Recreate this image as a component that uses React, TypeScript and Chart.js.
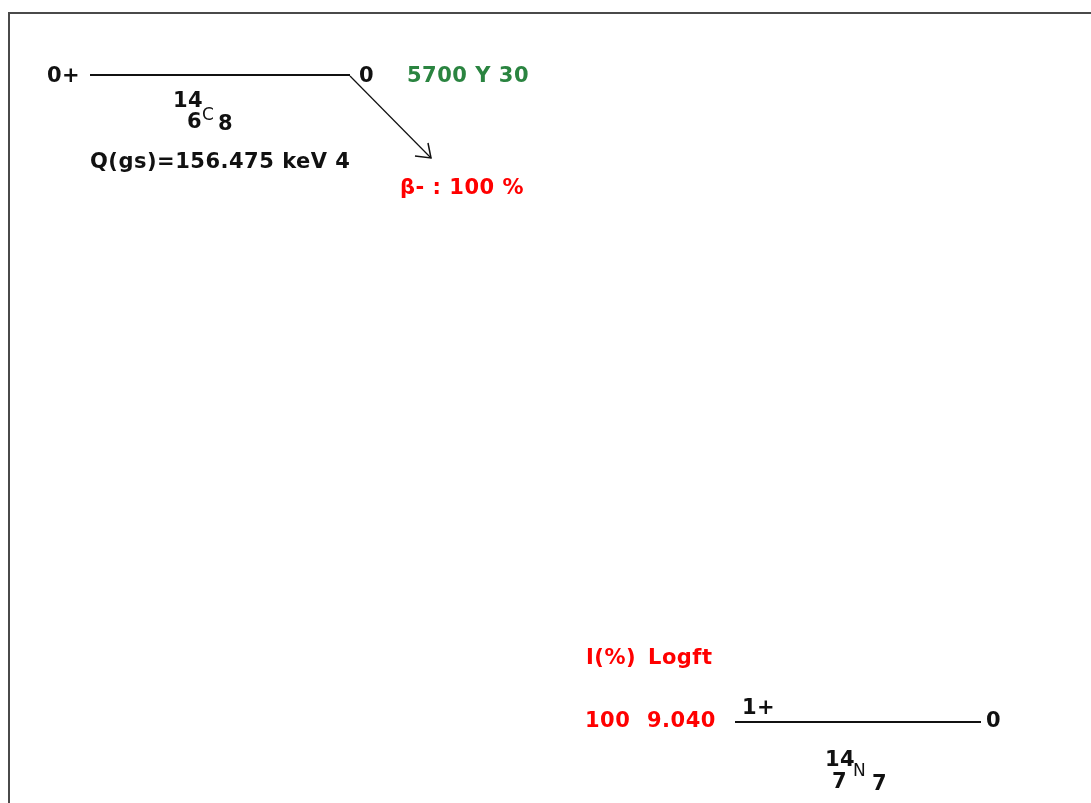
import React, { useEffect, useRef } from "react";
import { Chart, registerables } from "chart.js";

Chart.register(...registerables);

// ---- data ----
const parentSpin = ["0+"];
const parentEnergy = [0];
const parentHalfLife = ["5700 Y 30"];
const parentNuclide = { A: 14, Z: 6, N: 8, symbol: "C" };
const qValue = ["156.475 keV 4"];
const decayMode = ["β-"];
const decayPercent = [100];

const daughterSpin = ["1+"];
const daughterEnergy = [0];
const daughterNuclide = { A: 14, Z: 7, N: 7, symbol: "N" };
const branchIntensity = [100];
const branchLogft = ["9.040"];

// ---- layout (pixel space of the drawing) ----
const W = 1091;
const H = 803;
const parentLine = { x0: 90, x1: 350, y: 75 };
const daughterLine = { x0: 735, x1: 981, y: 722 };
const arrowEnd = { x: 431, y: 158 };

const FONT = "'DejaVu Sans', sans-serif";
const RED = "#ff0000";
const GREEN = "#2a8440";
const INK = "#111";

export default function App() {
  const ref = useRef<HTMLCanvasElement | null>(null);
  useEffect(() => {
    const canvas = ref.current!;
    const textPlugin = {
      id: "decayText",
      afterDatasetsDraw(chart: any) {
        const ctx = chart.ctx as CanvasRenderingContext2D;
        const xs = chart.scales.x;
        const ys = chart.scales.y;
        const px = (v: number) => xs.getPixelForValue(v);
        const py = (v: number) => ys.getPixelForValue(v);
        ctx.save();
        // frame
        ctx.strokeStyle = "#4a4a4a";
        ctx.lineWidth = 2;
        ctx.beginPath();
        ctx.moveTo(px(9), py(H + 10));
        ctx.lineTo(px(9), py(13));
        ctx.lineTo(px(W + 10), py(13));
        ctx.stroke();

        const txt = (s: string, x: number, y: number, color: string, size = 21, bold = true) => {
          ctx.font = `${bold ? "bold " : ""}${size}px ${FONT}`;
          (ctx as any).letterSpacing = bold ? "0.5px" : "0px";
          ctx.fillStyle = color;
          ctx.textAlign = "left";
          ctx.textBaseline = "alphabetic";
          ctx.fillText(s, px(x), py(y));
        };
        // parent level
        txt(parentSpin[0], 47, 82, INK);
        txt(String(parentEnergy[0]), 359, 82, INK);
        txt(parentHalfLife[0], 407, 82, GREEN);
        // nuclide label parent
        txt(String(parentNuclide.A), 173, 107, INK);
        txt(String(parentNuclide.Z), 187, 128, INK);
        txt(parentNuclide.symbol, 202, 120, INK, 17, false);
        txt(String(parentNuclide.N), 218, 130, INK);
        txt("Q(gs)=" + qValue[0], 90, 168, INK);
        txt(`${decayMode[0]} : ${decayPercent[0]} %`, 400, 194, RED);
        // arrowhead
        ctx.strokeStyle = INK;
        ctx.lineWidth = 1.5;
        ctx.beginPath();
        ctx.moveTo(px(arrowEnd.x - 16), py(arrowEnd.y - 2));
        ctx.lineTo(px(arrowEnd.x), py(arrowEnd.y));
        ctx.lineTo(px(arrowEnd.x - 3), py(arrowEnd.y - 15));
        ctx.stroke();
        // daughter
        txt("I(%)", 586, 664, RED);
        txt("Logft", 648, 664, RED);
        txt(String(branchIntensity[0]), 585, 727, RED);
        txt(branchLogft[0], 647, 727, RED);
        txt(daughterSpin[0], 742, 714, INK);
        txt(String(daughterEnergy[0]), 986, 727, INK);
        txt(String(daughterNuclide.A), 825, 766, INK);
        txt(String(daughterNuclide.Z), 832, 788, INK);
        txt(daughterNuclide.symbol, 853, 776, INK, 17, false);
        txt(String(daughterNuclide.N), 872, 790, INK);
        ctx.restore();
      },
    };
    const chart = new Chart(canvas, {
      type: "scatter",
      data: {
        datasets: [
          {
            data: [
              { x: parentLine.x0, y: parentLine.y },
              { x: parentLine.x1, y: parentLine.y },
            ],
            showLine: true,
            borderColor: INK,
            borderWidth: 2,
            pointRadius: 0,
          },
          {
            data: [
              { x: parentLine.x1, y: parentLine.y + 1 },
              { x: arrowEnd.x, y: arrowEnd.y },
            ],
            showLine: true,
            borderColor: INK,
            borderWidth: 1.2,
            pointRadius: 0,
          },
          {
            data: [
              { x: daughterLine.x0, y: daughterLine.y },
              { x: daughterLine.x1, y: daughterLine.y },
            ],
            showLine: true,
            borderColor: INK,
            borderWidth: 2,
            pointRadius: 0,
          },
        ],
      },
      options: {
        animation: false,
        responsive: false,
        events: [],
        layout: { padding: 0 },
        plugins: { legend: { display: false }, tooltip: { enabled: false } },
        scales: {
          x: { type: "linear", min: 0, max: W, display: false },
          y: { type: "linear", min: 0, max: H, reverse: true, display: false },
        },
      },
      plugins: [textPlugin],
    });
    return () => chart.destroy();
  }, []);
  return (
    <div style={{ position: "fixed", left: 0, top: 0, width: W, height: H, background: "#fff" }}>
      <canvas ref={ref} width={W} height={H} style={{ display: "block" }} />
    </div>
  );
}
